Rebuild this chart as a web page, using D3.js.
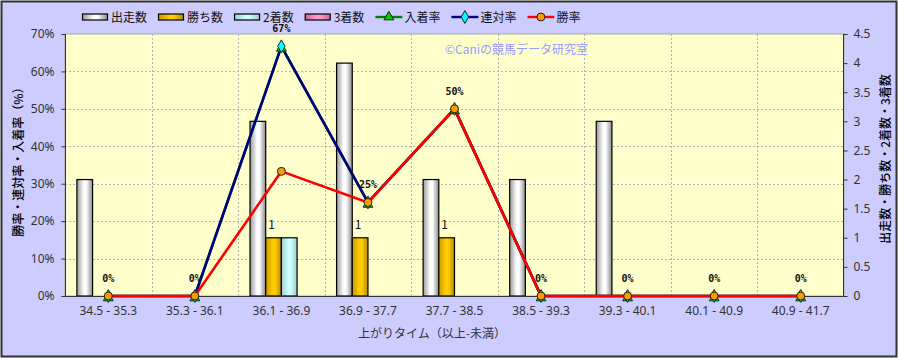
<!DOCTYPE html>
<html>
<head>
<meta charset="utf-8">
<script src="https://cdn.jsdelivr.net/npm/d3@7"></script>
<style>
  body { margin: 0; background: #fff; }
  svg { display: block; font-family: "Noto Sans CJK JP", "Noto Sans", sans-serif; }
</style>
</head>
<body>
<div id="chart"></div>
<script>
// data
const categories = ['34.5 - 35.3', '35.3 - 36.1', '36.1 - 36.9', '36.9 - 37.7', '37.7 - 38.5',
  '38.5 - 39.3', '39.3 - 40.1', '40.1 - 40.9', '40.9 - 41.7'];
const runs = [2, 0, 3, 4, 2, 2, 3, 0, 0];      // 出走数
const wins = [0, 0, 1, 1, 1, 0, 0, 0, 0];      // 勝ち数
const seconds = [0, 0, 1, 0, 0, 0, 0, 0, 0];   // 2着数
const thirds = [0, 0, 0, 0, 0, 0, 0, 0, 0];    // 3着数
const placeRate = [0, 0, 66.7, 25, 50, 0, 0, 0, 0];    // 入着率
const quinellaRate = [0, 0, 66.7, 25, 50, 0, 0, 0, 0]; // 連対率
const winRate = [0, 0, 33.3, 25, 50, 0, 0, 0, 0];      // 勝率
const leftTicks = [0, 10, 20, 30, 40, 50, 60, 70];
const rightTicks = [0, 0.5, 1, 1.5, 2, 2.5, 3, 3.5, 4, 4.5];

const width = 898;
const height = 358;
const margin = { top: 34, right: 54, bottom: 62, left: 65 };
const plotW = width - margin.left - margin.right;
const plotH = height - margin.top - margin.bottom;

const svg = d3.select('#chart').append('svg')
  .attr('width', width)
  .attr('height', height);

const defs = svg.append('defs');
const gradients = [
  { id: 'g-white', stops: ['#9a9a9a', '#ffffff', '#ffffff', '#8a8a8a'] },
  { id: 'g-gold', stops: ['#c89a00', '#ffcc00', '#ffcc00', '#b88a00'] },
  { id: 'g-cyan', stops: ['#9fd0d0', '#ccffff', '#ccffff', '#9fc8c8'] },
  { id: 'g-pink', stops: ['#cc6699', '#ff99cc', '#ff99cc', '#cc6699'] },
];
gradients.forEach((gr) => {
  const lg = defs.append('linearGradient').attr('id', gr.id)
    .attr('x1', 0).attr('x2', 1).attr('y1', 0).attr('y2', 0);
  [0, 0.45, 0.6, 1].forEach((o, i) => {
    lg.append('stop').attr('offset', o).attr('stop-color', gr.stops[i]);
  });
});

// background + frame
svg.append('rect')
  .attr('x', 1.5).attr('y', 1.5)
  .attr('width', width - 3).attr('height', height - 3)
  .attr('fill', '#ccccff')
  .attr('stroke', '#333')
  .attr('stroke-width', 2);

const g = svg.append('g').attr('transform', `translate(${margin.left},${margin.top})`);

g.append('rect')
  .attr('width', plotW).attr('height', plotH)
  .attr('fill', '#ffffcc')
  .attr('stroke', '#aaa');

const x = d3.scaleBand().domain(categories).range([0, plotW]);
const yLeft = d3.scaleLinear().domain([0, 70]).range([plotH, 0]);
const yRight = d3.scaleLinear().domain([0, 4.5]).range([plotH, 0]);

// grid
g.append('g')
  .selectAll('line')
  .data(leftTicks.slice(1, -1))
  .join('line')
  .attr('x1', 0).attr('x2', plotW)
  .attr('y1', (d) => Math.round(yLeft(d)) + 0.5)
  .attr('y2', (d) => Math.round(yLeft(d)) + 0.5)
  .attr('stroke', '#b4b4b4')
  .attr('stroke-dasharray', '2,2');

g.append('g')
  .selectAll('line')
  .data(categories.slice(1))
  .join('line')
  .attr('x1', (d) => Math.round(x(d)) + 0.5)
  .attr('x2', (d) => Math.round(x(d)) + 0.5)
  .attr('y1', 0).attr('y2', plotH)
  .attr('stroke', '#b4b4b4')
  .attr('stroke-dasharray', '2,2');

// bars
const barSeries = [
  { name: '出走数', values: runs, fill: 'url(#g-white)' },
  { name: '勝ち数', values: wins, fill: 'url(#g-gold)' },
  { name: '2着数', values: seconds, fill: 'url(#g-cyan)' },
  { name: '3着数', values: thirds, fill: 'url(#g-pink)' },
];
const groupW = x.bandwidth() * 0.725;
const xSub = d3.scaleBand()
  .domain(barSeries.map((s) => s.name))
  .range([(x.bandwidth() - groupW) / 2, (x.bandwidth() + groupW) / 2]);

barSeries.forEach((s) => {
  g.append('g')
    .selectAll('rect')
    .data(s.values.map((v, i) => ({ v, c: categories[i] })).filter((d) => d.v > 0))
    .join('rect')
    .attr('x', (d) => x(d.c) + xSub(s.name))
    .attr('y', (d) => yRight(d.v))
    .attr('width', xSub.bandwidth())
    .attr('height', (d) => plotH - yRight(d.v))
    .attr('fill', s.fill)
    .attr('stroke', '#000')
    .attr('stroke-width', 1.2);
});

// 勝ち数 labels
g.append('g')
  .selectAll('text')
  .data(wins.map((v, i) => ({ v, c: categories[i] })).filter((d) => d.v > 0))
  .join('text')
  .attr('x', (d) => x(d.c) + xSub('勝ち数') + xSub.bandwidth() / 2 - 2)
  .attr('y', (d) => yRight(d.v) - 9)
  .attr('text-anchor', 'middle')
  .attr('font-size', 12)
  .attr('fill', '#111')
  .text((d) => d.v);

// axes lines
g.append('line').attr('x1', 0.5).attr('x2', 0.5).attr('y1', 0).attr('y2', plotH).attr('stroke', '#333');
g.append('line').attr('x1', plotW - 0.5).attr('x2', plotW - 0.5).attr('y1', 0).attr('y2', plotH).attr('stroke', '#333');
g.append('line').attr('x1', 0).attr('x2', plotW).attr('y1', plotH + 0.5).attr('y2', plotH + 0.5).attr('stroke', '#333');

const axisLeft = d3.axisLeft(yLeft).tickValues(leftTicks).tickSize(4).tickPadding(7)
  .tickFormat((d) => `${d}%`);
const axisRight = d3.axisRight(yRight).tickValues(rightTicks).tickSize(4).tickPadding(6)
  .tickFormat((d) => d);
const axisBottom = d3.axisBottom(x).tickSize(0).tickPadding(10);

function styleAxis(sel) {
  sel.select('.domain').remove();
  sel.selectAll('line').attr('stroke', '#333');
  sel.selectAll('text')
    .attr('font-size', 12)
    .attr('fill', '#333')
    .attr('font-family', '"Noto Sans", sans-serif');
}

g.append('g').attr('transform', 'translate(0.5,0)').call(axisLeft).call(styleAxis);
g.append('g').attr('transform', `translate(${plotW - 0.5},0)`).call(axisRight).call(styleAxis);
g.append('g').attr('transform', `translate(0,${plotH})`).call(axisBottom).call(styleAxis);

// watermark
g.append('text')
  .attr('x', 380).attr('y', 20)
  .attr('font-size', 12)
  .attr('fill', '#9999ff')
  .text('©Caniの競馬データ研究室');

// lines
const lineSeries = [
  { name: '入着率', values: placeRate, color: '#008000', marker: 'triangle', fill: '#00cc00' },
  { name: '連対率', values: quinellaRate, color: '#000080', marker: 'diamond', fill: '#00ffff' },
  { name: '勝率', values: winRate, color: '#ff0000', marker: 'circle', fill: '#ff9900' },
];
const cx = (i) => x(categories[i]) + x.bandwidth() / 2;
const markerPath = {
  triangle: d3.symbol().type(d3.symbolTriangle).size(42),
  diamond: d3.symbol().type(d3.symbolDiamond).size(48),
  circle: d3.symbol().type(d3.symbolCircle).size(50),
};

lineSeries.forEach((s) => {
  const line = d3.line().x((d, i) => cx(i)).y((d) => yLeft(d));
  g.append('path')
    .datum(s.values)
    .attr('d', line)
    .attr('fill', 'none')
    .attr('stroke', s.color)
    .attr('stroke-width', 2.6)
    .attr('stroke-linejoin', 'round');
});

lineSeries.forEach((s) => {
  g.append('g')
    .selectAll('path')
    .data(s.values)
    .join('path')
    .attr('transform', (d, i) => `translate(${cx(i)},${yLeft(d) + (s.marker === 'triangle' ? 2 : 0)})`)
    .attr('d', markerPath[s.marker]())
    .attr('fill', s.fill)
    .attr('stroke', s.marker === 'triangle' ? '#004400' : '#222')
    .attr('stroke-width', 1);
});

// rate labels
g.append('g')
  .selectAll('text')
  .data(quinellaRate)
  .join('text')
  .attr('x', (d, i) => cx(i))
  .attr('y', (d) => yLeft(d) - 14)
  .attr('text-anchor', 'middle')
  .attr('font-size', 10)
  .attr('font-weight', 'bold')
  .attr('font-family', '"DejaVu Sans Mono", monospace')
  .attr('fill', '#111')
  .text((d) => `${Math.round(d)}%`);

// titles
svg.append('text')
  .attr('transform', `translate(23,${margin.top + plotH / 2 - 6}) rotate(-90)`)
  .attr('text-anchor', 'middle')
  .attr('font-size', 12)
  .attr('font-weight', 500)
  .attr('fill', '#000')
  .text('勝率・連対率・入着率（%）');

svg.append('text')
  .attr('transform', `translate(890,${margin.top + plotH / 2 - 6}) rotate(-90)`)
  .attr('text-anchor', 'middle')
  .attr('font-size', 12)
  .attr('font-weight', 500)
  .attr('fill', '#000')
  .text('出走数・勝ち数・2着数・3着数');

svg.append('text')
  .attr('x', 432).attr('y', 338)
  .attr('text-anchor', 'middle')
  .attr('font-size', 12)
  .attr('fill', '#333')
  .text('上がりタイム（以上-未満）');

// legend
const legend = svg.append('g').attr('transform', 'translate(82,17)');
const legendItems = [
  ...barSeries.map((s) => ({ name: s.name, type: 'bar', fill: s.fill })),
  ...lineSeries.map((s) => ({ name: s.name, type: 'line', color: s.color, marker: s.marker, fill: s.fill })),
];
let lx = 0;
legendItems.forEach((it) => {
  const item = legend.append('g').attr('transform', `translate(${lx},0)`);
  if (it.type === 'bar') {
    item.append('rect')
      .attr('x', 0.5).attr('y', -3)
      .attr('width', 25).attr('height', 6)
      .attr('fill', it.fill)
      .attr('stroke', '#000')
      .attr('stroke-width', 1.2);
  } else {
    item.append('line')
      .attr('x1', 0).attr('x2', 27).attr('y1', 0).attr('y2', 0)
      .attr('stroke', it.color).attr('stroke-width', 2.4);
    item.append('path')
      .attr('transform', 'translate(13.5,0)')
      .attr('d', markerPath[it.marker]())
      .attr('fill', it.fill)
      .attr('stroke', '#222')
      .attr('stroke-width', 1);
  }
  const t = item.append('text')
    .attr('x', 29).attr('y', 5)
    .attr('font-size', 12)
    .attr('fill', '#111')
    .text(it.name);
  lx += 29 + t.node().getComputedTextLength() + 11;
});
</script>
</body>
</html>
